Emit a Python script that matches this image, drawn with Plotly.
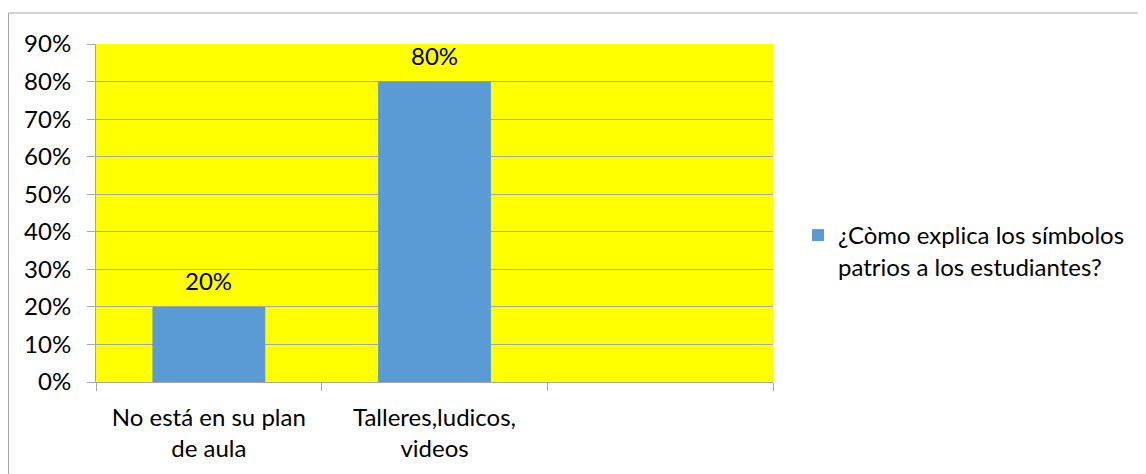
import plotly.graph_objects as go

categories = ["No está en su plan<br>de aula", "Talleres,ludicos,<br>videos", " "]
values = [0.20, 0.80, None]
labels = ["20%", "80%", ""]
series_name = "¿Còmo explica los símbolos<br>patrios a los estudiantes?"

# page has 8px body margin; figure coords = page coords - 8
OFF = 8
W, H = 1146 - OFF, 474 - OFF
L, R, T, B = 96 - OFF, 773 - OFF, 44 - OFF, 382 - OFF
pw, ph = R - L, B - T
FS = 24

fig = go.Figure()
fig.add_trace(go.Bar(
    x=categories, y=values, name=series_name,
    marker=dict(color="#5B9BD5", line=dict(width=0)),
    width=0.5,
))
for c, v, t in zip(categories, values, labels):
    if v is None:
        continue
    fig.add_annotation(x=c, y=v, text=t, showarrow=False, yanchor="bottom",
                       yshift=10, font=dict(size=FS, color="#000000"))

font = "Lato, 'Open Sans', sans-serif"
fig.update_layout(
    width=W, height=H,
    margin=dict(l=L, r=W - R, t=T, b=H - B, pad=0),
    paper_bgcolor="white", plot_bgcolor="#FFFF00",
    font=dict(family=font, size=FS, color="#000000"),
    showlegend=True,
    legend=dict(x=(798 - OFF - L) / pw, y=(B - (251 - OFF)) / ph, xanchor="left", yanchor="middle",
                font=dict(size=FS), itemwidth=30, bgcolor="rgba(0,0,0,0)", valign="top"),
)
fig.update_xaxes(
    type="category", tickson="boundaries", ticks="outside", ticklen=8,
    tickcolor="#A6A6A6", showline=True, linecolor="#A6A6A6", linewidth=1,
    showgrid=False, tickfont=dict(size=FS), ticklabelstandoff=14,
)
fig.update_yaxes(
    range=[0, 0.9], dtick=0.1, tickformat=".0%", ticks="outside", ticklen=8,
    tickcolor="#A6A6A6", showline=True, linecolor="#A6A6A6", linewidth=1,
    showgrid=True, gridcolor="#A6A6A6", gridwidth=1, zeroline=False,
    tickfont=dict(size=FS), ticklabelstandoff=11,
)
fig.add_shape(type="rect", xref="paper", yref="paper",
              x0=(0.5 - L) / pw, x1=(W + 5 - L) / pw,
              y0=(B - (H + 5)) / ph, y1=(B - (13 - OFF)) / ph,
              line=dict(color="#A6A6A6", width=1), fillcolor="rgba(0,0,0,0)", layer="below")

fig.write_html("out.html")
